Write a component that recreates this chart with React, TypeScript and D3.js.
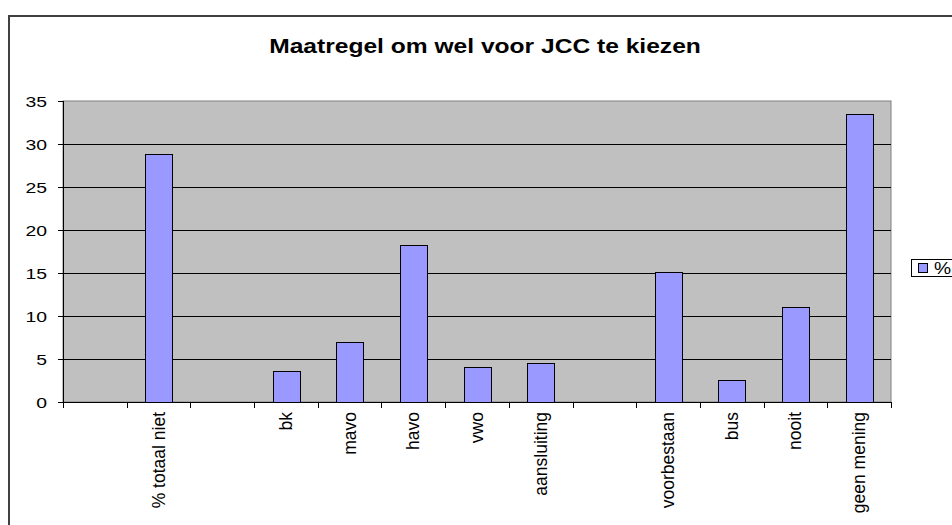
import React from "react";
import * as d3 from "d3";

const categories = ["", "% totaal niet", " ", "bk", "mavo", "havo", "vwo", "aansluiting", "  ", "voorbestaan", "bus", "nooit", "geen mening"];
const values: (number | null)[] = [null, 28.8, null, 3.55, 7.03, 18.3, 4.1, 4.56, null, 15.15, 2.59, 11.1, 33.5];
const yTicks = [0, 5, 10, 15, 20, 25, 30, 35];
const title = "Maatregel om wel voor JCC te kiezen";
const seriesName = "%";

export default function App() {
  const W = 952, H = 525;
  const left = 63, right = 891, top = 101, bottom = 402;
  const x = d3.scaleBand<string>().domain(categories).range([left, right]).paddingInner(0).paddingOuter(0);
  const y = d3.scaleLinear().domain([0, 35]).range([bottom, top]);
  const bw = x.bandwidth() * 0.42;
  const font = "'Liberation Sans', Arial, sans-serif";
  const boundaries = categories.map((c) => x(c)!).concat([right]);

  return (
    <svg width={W} height={H} style={{ position: "absolute", left: 0, top: 0 }}>
      <rect x={0} y={0} width={W} height={H} fill="#fff" />
      <path d={`M9,${H} V16 H${W}`} fill="none" stroke="#404040" strokeWidth={2} />
      <text transform={`translate(485,53) scale(1.2,1)`} textAnchor="middle" fontFamily={font} fontWeight="bold" fontSize={20.5}>{title}</text>
      <rect x={left} y={top} width={right - left} height={bottom - top} fill="#c0c0c0" stroke="#808080" strokeWidth={1} />
      {yTicks.filter((t) => t > 0 && t < 35).map((t) => (
        <line key={t} x1={left} x2={right} y1={Math.round(y(t)) + 0.5} y2={Math.round(y(t)) + 0.5} stroke="#000" strokeWidth={1} />
      ))}
      {values.map((v, i) => v == null ? null : (
        <rect key={i}
          x={Math.round(x(categories[i])! + (x.bandwidth() - bw) / 2) + 0.5}
          y={Math.round(y(v)) + 0.5}
          width={Math.round(bw)}
          height={Math.round(y(0)) - Math.round(y(v))}
          fill="#9999ff" stroke="#000" strokeWidth={1} />
      ))}
      <line x1={left + 0.5} x2={left + 0.5} y1={top} y2={bottom} stroke="#000" />
      <line x1={left} x2={right} y1={bottom + 0.5} y2={bottom + 0.5} stroke="#000" />
      {yTicks.map((t) => (
        <g key={t}>
          <line x1={left - 5} x2={left} y1={Math.round(y(t)) + 0.5} y2={Math.round(y(t)) + 0.5} stroke="#000" />
          <text transform={`translate(47,${y(t) + 6}) scale(1.25,1)`} textAnchor="end" fontFamily={font} fontSize={15.5}>{t}</text>
        </g>
      ))}
      {boundaries.map((b, i) => (
        <line key={i} x1={Math.round(b) + 0.5} x2={Math.round(b) + 0.5} y1={bottom} y2={bottom + 6} stroke="#000" />
      ))}
      {categories.map((c, i) => c.trim() === "" ? null : (
        <text key={i} transform={`translate(${x(c)! + x.bandwidth() / 2 + 6},${412}) rotate(-90)`}
          textAnchor="end" fontFamily={font} fontSize={17.5}>{c}</text>
      ))}
      <rect x={911.5} y={259.5} width={60} height={17} fill="#fff" stroke="#000" />
      <rect x={918.5} y={263.5} width={9} height={9} fill="#9999ff" stroke="#000" />
      <text transform="translate(934,274) scale(1.2,1)" fontFamily={font} fontSize={16}>{seriesName}</text>
    </svg>
  );
}
